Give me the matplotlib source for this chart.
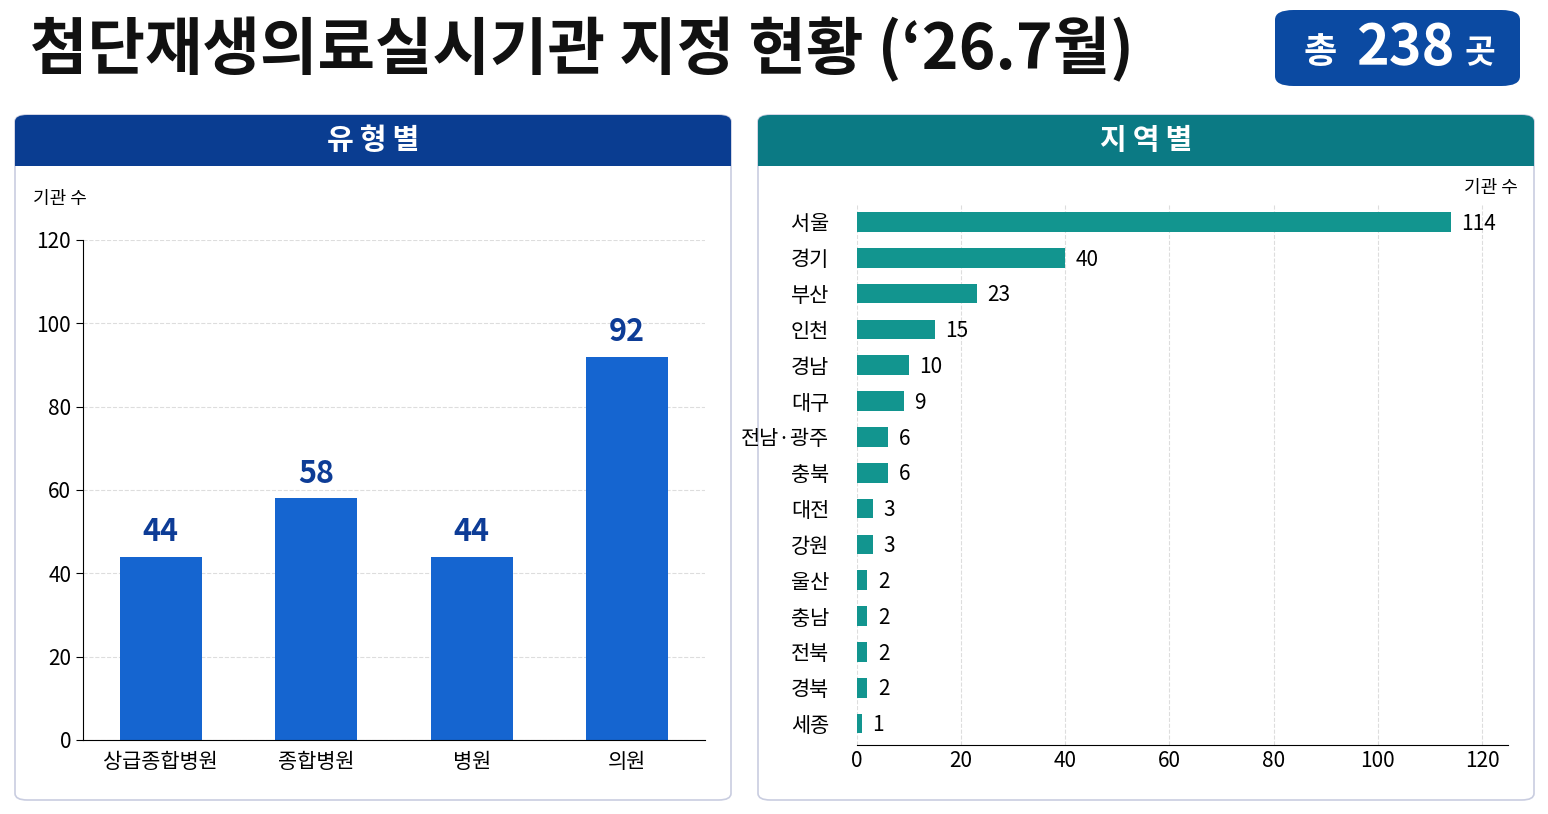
import matplotlib.pyplot as plt
from matplotlib.patches import FancyBboxPatch, Rectangle

plt.rcParams['font.family'] = ['Noto Sans CJK KR', 'DejaVu Sans']

types = ["상급종합병원", "종합병원", "병원", "의원"]
type_counts = [44, 58, 44, 92]

regions = ["서울", "경기", "부산", "인천", "경남", "대구", "전남·광주", "충북",
           "대전", "강원", "울산", "충남", "전북", "경북", "세종"]
region_counts = [114, 40, 23, 15, 10, 9, 6, 6, 3, 3, 2, 2, 2, 2, 1]

W, H = 1548, 814
fig = plt.figure(figsize=(15.48, 8.14), dpi=100)
fig.patch.set_facecolor("white")


def fx(px):
    return px / W


def fy(py):
    return 1 - py / H


# title + badge
fig.text(fx(30), fy(50), "첨단재생의료실시기관 지정 현황 (‘26.7월)", fontsize=45,
         fontweight="black", va="center", ha="left", color="#111111")
fig.patches.append(FancyBboxPatch((fx(1275), fy(86)), fx(245), fy(10) - fy(86),
                                  boxstyle="round,pad=0,rounding_size=0.012",
                                  transform=fig.transFigure, facecolor="#0b4aa2",
                                  edgecolor="none", zorder=0))
fig.text(fx(1320), fy(52), "총", fontsize=26, fontweight="bold", color="white",
         ha="center", va="center")
fig.text(fx(1405), fy(48), "238", fontsize=40, fontweight="bold", color="white",
         ha="center", va="center")
fig.text(fx(1480), fy(54), "곳", fontsize=24, fontweight="bold", color="white",
         ha="center", va="center")

# panels
for x0, x1, col, name in [(15, 731, "#0a3d91", "유형별"), (758, 1534, "#0b7a84", "지역별")]:
    fig.patches.append(FancyBboxPatch((fx(x0), fy(800)), fx(x1 - x0), fy(115) - fy(800),
                                      boxstyle="round,pad=0,rounding_size=0.008",
                                      transform=fig.transFigure, facecolor="white",
                                      edgecolor="#c9cde0", linewidth=1.2, zorder=0))
    fig.patches.append(FancyBboxPatch((fx(x0), fy(166)), fx(x1 - x0), fy(115) - fy(166),
                                      boxstyle="round,pad=0,rounding_size=0.008",
                                      transform=fig.transFigure, facecolor=col,
                                      edgecolor="none", zorder=0))
    fig.patches.append(Rectangle((fx(x0), fy(166)), fx(x1 - x0), fy(145) - fy(166),
                                 transform=fig.transFigure, facecolor=col, edgecolor="none",
                                 zorder=0))
    fig.text(fx((x0 + x1) / 2), fy(140), "\u2009".join(name), fontsize=21,
             fontweight="bold", color="white", ha="center", va="center",
             family=['DejaVu Sans', 'Noto Sans CJK KR'] if False else None)

# left chart
ax1 = fig.add_axes([fx(83), fy(740), fx(622), fy(240) - fy(740)], zorder=5)
ax1.patch.set_alpha(0)
bars = ax1.bar(types, type_counts, width=0.53, color="#1565d0", zorder=2)
for b, v in zip(bars, type_counts):
    ax1.text(b.get_x() + b.get_width() / 2, v + 2, str(v), ha="center", va="bottom",
             fontsize=22, fontweight="bold", color="#0d3c96")
ax1.set_ylim(0, 120)
ax1.set_xlim(-0.5, 3.5)
ax1.set_yticks(range(0, 121, 20))
ax1.grid(axis="y", linestyle="--", color="#dddddd", zorder=0)
for s in ["top", "right"]:
    ax1.spines[s].set_visible(False)
ax1.tick_params(axis="both", labelsize=15, length=5)
ax1.tick_params(axis="x", length=0, pad=8)
fig.text(fx(33), fy(199), "기관 수", fontsize=13, ha="left", va="center")

# right chart
ax2 = fig.add_axes([fx(857), fy(745), fx(651), fy(204) - fy(745)], zorder=5)
ax2.patch.set_alpha(0)
ypos = list(range(len(regions)))
ax2.barh(ypos, region_counts, height=0.55, color="#12958f", zorder=2)
for y, v in zip(ypos, region_counts):
    ax2.text(v + 2, y + 0.05, str(v), ha="left", va="center", fontsize=15)
ax2.set_yticks(ypos)
ax2.set_yticklabels(regions)
ax2.set_ylim(14.6, -0.5)
ax2.set_xlim(0, 125)
ax2.set_xticks(range(0, 121, 20))
ax2.grid(axis="x", linestyle="--", color="#dddddd", zorder=0)
for s in ["top", "right", "left"]:
    ax2.spines[s].set_visible(False)
ax2.tick_params(axis="y", length=0, labelsize=15, pad=20)
ax2.tick_params(axis="x", labelsize=15, length=0)
fig.text(fx(1518), fy(188), "기관 수", fontsize=13, ha="right", va="center")

fig.savefig("out.png", dpi=100)
